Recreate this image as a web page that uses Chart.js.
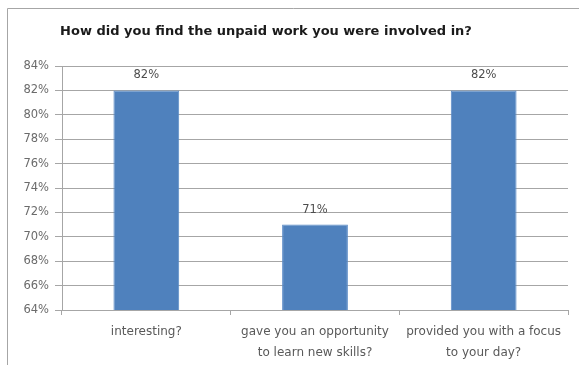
<!DOCTYPE html>
<html>
<head>
<meta charset="utf-8">
<script src="https://cdn.jsdelivr.net/npm/chart.js@4"></script>
<style>
  html, body { margin: 0; padding: 0; background: #fff; }
  #wrap { width: 579px; height: 365px; position: relative; }
</style>
</head>
<body>
<div id="wrap"><canvas id="workChart" width="579" height="365"></canvas></div>
<script>
// data
var categories = [
  "interesting?",
  ["gave you an opportunity", "to learn new skills?"],
  ["provided you with a focus", "to your day?"]
];
var shares = [0.82, 0.71, 0.82];
var yMin = 0.64, yMax = 0.84, yStep = 0.02;
var chartTitle = "How did you find the unpaid work you were involved in?";

var FONT = "'DejaVu Sans', 'Liberation Sans', sans-serif";

// frame + title + value labels, Excel style
var decor = {
  id: 'decor',
  beforeDraw: function (chart) {
    var c = chart.ctx;
    c.save();
    c.fillStyle = '#ffffff';
    c.fillRect(0, 0, chart.width, chart.height);
    c.strokeStyle = '#a6a6a6';
    c.lineWidth = 1;
    c.beginPath();
    c.moveTo(7.5, chart.height);
    c.lineTo(7.5, 8.5);
    c.lineTo(chart.width, 8.5);
    c.stroke();
    c.fillStyle = '#1a1a1a';
    c.font = 'bold 13px ' + FONT;
    c.textAlign = 'center';
    c.textBaseline = 'middle';
    c.fillText(chartTitle, 266, 32);
    c.restore();
  },
  afterDatasetsDraw: function (chart) {
    var c = chart.ctx;
    var meta = chart.getDatasetMeta(0);
    c.save();
    c.fillStyle = '#4d4d4d';
    c.font = '11.5px ' + FONT;
    c.textAlign = 'center';
    c.textBaseline = 'middle';
    meta.data.forEach(function (bar, i) {
      c.fillText(Math.round(shares[i] * 100) + '%', bar.x, bar.y - 15);
    });
    c.restore();
  }
};

var ctx = document.getElementById('workChart').getContext('2d');
var workChart = new Chart(ctx, {
  type: 'bar',
  data: {
    labels: categories,
    datasets: [{
      data: shares,
      backgroundColor: '#4f81bd',
      borderColor: '#5a8ac6',
      borderWidth: 1,
      categoryPercentage: 1.0,
      barPercentage: 0.39
    }]
  },
  options: {
    responsive: false,
    animation: false,
    layout: { padding: { top: 66, left: 0, right: 11, bottom: 0 } },
    plugins: {
      legend: { display: false },
      tooltip: { enabled: false }
    },
    scales: {
      x: {
        offset: true,
        grid: {
          offset: true,
          drawOnChartArea: false,
          drawTicks: true,
          tickLength: 5,
          color: '#a6a6a6'
        },
        border: { color: '#a6a6a6' },
        ticks: {
          color: '#595959',
          padding: 6,
          maxRotation: 0,
          autoSkip: false,
          font: { family: FONT, size: 12, lineHeight: 1.75 }
        },
        afterFit: function (scale) { scale.height = 55; }
      },
      y: {
        min: yMin,
        max: yMax,
        grid: {
          color: '#a6a6a6',
          tickLength: 7
        },
        border: { color: '#a6a6a6' },
        ticks: {
          stepSize: yStep,
          color: '#6b6b6b',
          padding: 6,
          font: { family: FONT, size: 11.5 },
          callback: function (v) { return Math.round(v * 100) + '%'; }
        },
        afterFit: function (scale) { scale.width = 62; }
      }
    }
  },
  plugins: [decor]
});
</script>
</body>
</html>
